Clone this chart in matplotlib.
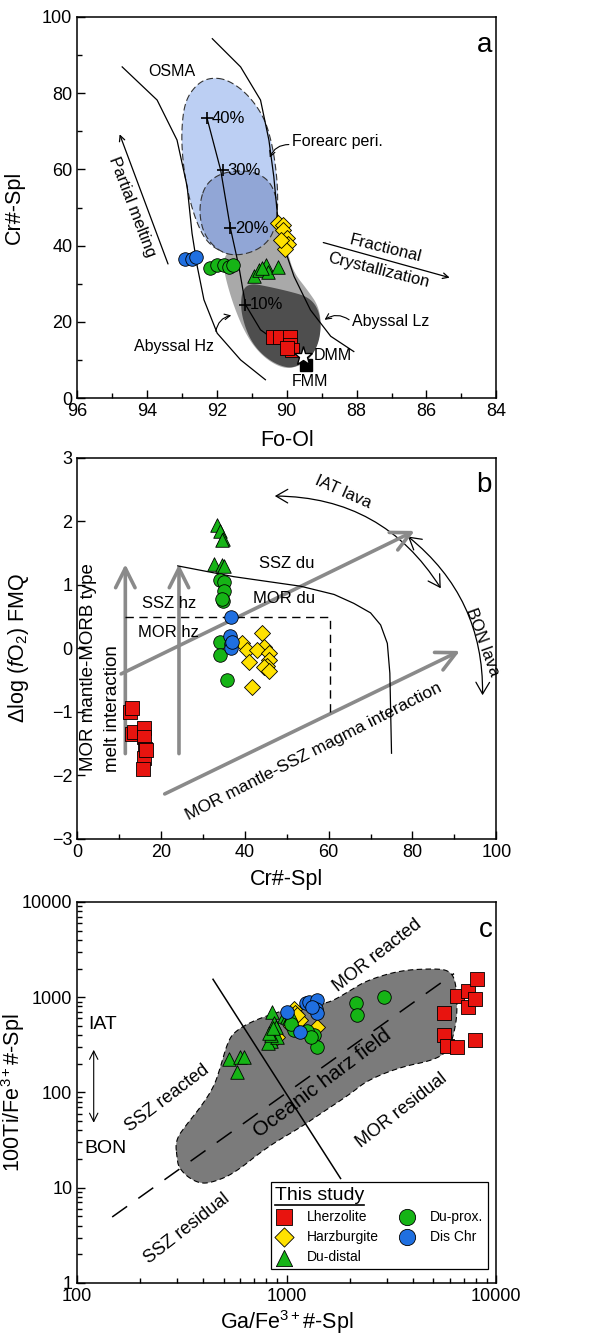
import numpy as np
import matplotlib.pyplot as plt
from matplotlib.patches import FancyArrowPatch, Polygon
from matplotlib.lines import Line2D
from matplotlib.ticker import MultipleLocator, FuncFormatter, LogLocator

plt.rcParams['font.family'] = ['Liberation Sans', 'DejaVu Sans']
plt.rcParams['mathtext.fontset'] = 'custom'
plt.rcParams['mathtext.rm'] = 'Liberation Sans'
plt.rcParams['mathtext.it'] = 'Liberation Sans:italic'
plt.rcParams['mathtext.bf'] = 'Liberation Sans:bold'

# colours of the sample groups
c_red = '#e8140f'
c_yel = '#ffe100'
c_grn = '#16b416'
c_blu = '#1f6fe0'

# ---------------- panel a : Fo-Ol vs Cr#-Spl ----------------
a_lhz_x = [90.4, 90.2, 89.9, 89.9, 89.85, 90.0]
a_lhz_y = [16, 16, 16, 14, 12.5, 13]
a_hzb_x = [90.25, 90.1, 90.1, 90.0, 89.95, 90.05, 90.15]
a_hzb_y = [46, 45.5, 44, 42, 40.5, 39, 41.5]
a_dud_x = [90.95, 90.8, 90.6, 90.55, 90.25, 90.7]
a_dud_y = [32, 33.5, 35, 33, 34.5, 34]
a_dup_x = [92.2, 92.0, 91.8, 91.65, 91.55]
a_dup_y = [34, 35, 35, 34.5, 35]
a_chr_x = [92.9, 92.7, 92.6]
a_chr_y = [36.5, 36.5, 37]

# field outlines
a_osma = [(92.18, 84.1), (91.70, 83.6), (91.13, 79.9), (90.65, 73.8), (90.42, 66.8),
          (90.29, 59.0), (90.25, 52.0), (90.29, 46.7), (90.56, 41.5), (91.13, 38.0),
          (91.70, 37.6), (92.28, 40.6), (92.61, 46.7), (92.85, 54.6), (92.99, 63.3),
          (93.01, 71.2), (92.90, 78.2), (92.56, 82.5)]
a_fore = [(92.47, 52.0), (92.32, 55.9), (91.99, 58.5), (91.51, 59.7), (90.94, 59.4),
          (90.51, 57.2), (90.29, 52.8), (90.27, 47.6), (90.42, 42.4), (90.75, 39.3),
          (91.23, 37.6), (91.70, 37.6), (92.09, 39.7), (92.37, 43.2), (92.49, 47.6)]
a_abyss = [(90.29, 48.5), (90.08, 43.2), (89.97, 38.0), (89.79, 32.8), (89.41, 28.4),
           (89.08, 24.0), (89.01, 18.8), (89.13, 13.5), (89.41, 9.6), (89.79, 7.9),
           (90.13, 7.9), (90.56, 10.0), (90.94, 13.5), (91.23, 17.9), (91.47, 23.1),
           (91.66, 28.4), (91.80, 33.6), (91.80, 37.1), (91.51, 39.7), (90.56, 43.2)]
a_lz = [(91.27, 28.4), (91.04, 30.1), (90.56, 29.3), (89.89, 27.9), (89.41, 26.6),
        (89.13, 24.0), (89.01, 19.7), (89.08, 14.4), (89.32, 10.5), (89.70, 8.3),
        (89.98, 7.9), (90.37, 9.2), (90.75, 11.8), (91.04, 15.3), (91.23, 19.7),
        (91.32, 24.0)]

# OSMA boundaries and melting trend
osma1_x = [94.71, 93.71, 93.14, 92.85, 92.71, 92.56, 92.37, 91.99, 91.32, 90.61]
osma1_y = [86.9, 78.2, 67.7, 55.5, 43.2, 34.5, 25.8, 17.0, 10.0, 4.8]
osma2_x = [92.13, 91.32, 90.75, 90.51, 90.37, 90.27, 90.08, 89.79, 89.32, 88.74, 88.08]
osma2_y = [94.3, 86.9, 78.2, 67.7, 58.1, 48.5, 39.7, 31.9, 23.1, 16.2, 12.2]
melt_x = [92.28, 91.89, 91.61, 91.37, 91.18, 90.75, 90.08, 89.56]
melt_y = [73.4, 59.8, 44.5, 34.5, 24.5, 17.9, 13.5, 10.9]
melt_pct = ['40%', '30%', '20%', '10%']
melt_px = [92.28, 91.83, 91.61, 91.18]
melt_py = [73.4, 59.8, 44.5, 24.5]

# ---------------- panel b : Cr#-Spl vs dlogfO2 ----------------
b_lhz_x = [12.7, 13.0, 13.0, 13.5, 15.9, 16.0, 16.3, 16.0, 15.8, 16.5]
b_lhz_y = [-1.0, -0.93, -1.35, -1.32, -1.25, -1.4, -1.58, -1.72, -1.9, -1.6]
b_hzb_x = [39.4, 40.6, 44.2, 44.6, 43.0, 45.7, 45.8, 41.0, 45.2, 44.6, 45.7, 41.8]
b_hzb_y = [0.08, -0.03, 0.25, 0.02, -0.02, -0.07, -0.18, -0.21, -0.28, -0.3, -0.36, -0.6]
b_dud_x = [33.4, 34.2, 34.8, 34.5, 32.6, 34.6, 35.0]
b_dud_y = [1.95, 1.85, 1.72, 1.7, 1.33, 1.32, 1.3]
b_dup_x = [34.2, 35.0, 35.0, 34.8, 34.5, 34.2, 34.2, 35.8]
b_dup_y = [1.08, 1.05, 0.9, 0.75, 0.78, 0.1, -0.1, -0.5]
b_chr_x = [36.6, 36.5, 36.8, 36.6, 37.0]
b_chr_y = [0.5, 0.2, 0.07, 0.0, 0.1]

b_du_x = [24, 37.4, 53.3, 61.3, 66.0, 70.0, 72.4, 74.0, 74.6, 75.0]
b_du_y = [1.3, 1.13, 0.98, 0.85, 0.71, 0.56, 0.37, 0.08, -0.39, -1.65]
b_hz_x = [11.5, 60.3, 60.3]
b_hz_y = [0.5, 0.5, -1.02]

# ---------------- panel c : Ga/Fe3+# vs 100Ti/Fe3+# ----------------
c_lhz_x = [5620, 5600, 5800, 6500, 6500, 7300, 7300, 7900, 8100, 7900]
c_lhz_y = [680, 400, 310, 300, 1020, 1150, 790, 960, 1570, 355]
c_hzb_x = [1080, 1100, 1040, 1160, 1400, 900, 1050, 1120]
c_hzb_y = [760, 680, 620, 570, 490, 380, 500, 650]
c_dud_x = [850, 870, 840, 810, 885, 900, 840, 970, 1000, 1030, 1050, 530, 600, 625, 580, 820, 860]
c_dud_y = [700, 530, 350, 330, 490, 380, 400, 640, 620, 600, 650, 225, 235, 235, 165, 420, 480]
c_dup_x = [2130, 2160, 2900, 1350, 1400, 1080, 1250, 1300, 1050]
c_dup_y = [870, 650, 1000, 400, 300, 450, 440, 380, 520]
c_chr_x = [1005, 1230, 1280, 1400, 1380, 1400, 1160, 1320]
c_chr_y = [700, 860, 880, 940, 760, 680, 430, 780]

c_field = [(300, 20.2), (294, 31.5), (335, 47), (388, 70), (449, 114), (483, 185),
           (520, 326), (560, 432), (697, 572), (969, 729), (1164, 822), (1503, 857),
           (1679, 929), (2018, 1183), (2422, 1506), (3491, 1918), (5035, 1995),
           (5940, 1918), (6393, 1506), (6516, 790), (6393, 487), (5940, 277),
           (5035, 218), (3491, 185), (2422, 134), (2018, 97), (1452, 60), (1164, 43),
           (807, 26.8), (560, 14.1), (449, 11.5), (388, 11.0), (335, 13.0), (305, 16.5)]
c_trend_x = [147, 6280]
c_trend_y = [4.93, 1770]
c_split_x = [445, 1807]
c_split_y = [1542, 12.5]


def smooth(pts, n=3):
    p = np.asarray(pts, float)
    for _ in range(n):
        q = 0.75 * p + 0.25 * np.roll(p, -1, axis=0)
        r = 0.25 * p + 0.75 * np.roll(p, -1, axis=0)
        p = np.empty((2 * len(q), 2))
        p[0::2] = q
        p[1::2] = r
    return p


def style_axes(ax):
    ax.tick_params(which='both', direction='in', top=False, right=False, labelsize=13)
    ax.tick_params(which='major', length=6, width=1)
    ax.tick_params(which='minor', length=3.5, width=1)
    for s in ax.spines.values():
        s.set_linewidth(1.1)


def groups(ax, lhz, hzb, dud, dup, chr_, s=95, label=False):
    kw = dict(edgecolors='black', linewidths=0.6, zorder=5)
    ax.scatter(*lhz, marker='s', s=s, c=c_red, label='Lherzolite' if label else None, **kw)
    ax.scatter(*hzb, marker='D', s=s * 0.7, c=c_yel, label='Harzburgite' if label else None, **kw)
    ax.scatter(*dud, marker='^', s=s, c=c_grn, label='Du-distal' if label else None, **kw)
    ax.scatter(*dup, marker='o', s=s, c=c_grn, label='Du-prox.' if label else None, **kw)
    ax.scatter(*chr_, marker='o', s=s, c=c_blu, label='Dis Chr' if label else None, **kw)


fig = plt.figure(figsize=(6.12, 13.37), dpi=100)
axa = fig.add_axes([0.126, 0.7023, 0.685, 0.285])
axb = fig.add_axes([0.126, 0.3725, 0.685, 0.285])
axc = fig.add_axes([0.126, 0.0404, 0.685, 0.285])

# ---------- a ----------
axa.add_patch(Polygon(smooth(a_abyss), closed=True, fc='#a9a9a9', ec='none', zorder=1))
axa.add_patch(Polygon(smooth(a_osma), closed=True, fc='#bccff3', ec='#333333', ls=(0, (6, 3)), lw=0.8, zorder=2))
axa.add_patch(Polygon(smooth(a_fore), closed=True, fc='#91a6d6', ec='#333333', ls=(0, (6, 3)), lw=0.8, zorder=2))
axa.add_patch(Polygon(smooth(a_lz), closed=True, fc='#4e4e4e', ec='none', zorder=2))
axa.plot(osma1_x, osma1_y, color='black', lw=0.9, zorder=3)
axa.plot(osma2_x, osma2_y, color='black', lw=0.9, zorder=3)
axa.plot(melt_x, melt_y, color='black', lw=0.9, zorder=3)
axa.plot(melt_px, melt_py, ls='none', marker='+', ms=9, mew=1.2, color='black', zorder=4)
for px, py, t in zip(melt_px, melt_py, melt_pct):
    axa.text(px - 0.12, py, t, fontsize=12, ha='left', va='center', zorder=4)
groups(axa, (a_lhz_x, a_lhz_y), (a_hzb_x, a_hzb_y), (a_dud_x, a_dud_y),
       (a_dup_x, a_dup_y), (a_chr_x, a_chr_y))
axa.plot([89.46], [8.7], marker='s', ms=9, color='black', zorder=6)
axa.plot([89.53], [10.9], marker='*', ms=14, mfc='white', mec='black', mew=1, zorder=7)

axa.text(93.28, 85.6, 'OSMA', fontsize=11.5, ha='center', va='center')
axa.text(89.84, 67.3, 'Forearc peri.', fontsize=11.5, ha='left', va='center')
axa.annotate('', xy=(90.51, 62.4), xytext=(89.86, 66.5),
             arrowprops=dict(arrowstyle='->', lw=0.8, connectionstyle='arc3,rad=0.4'))
axa.text(88.12, 20.1, 'Abyssal Lz', fontsize=11.5, ha='left', va='center')
axa.annotate('', xy=(88.98, 20.1), xytext=(88.15, 20.1),
             arrowprops=dict(arrowstyle='->', lw=0.8, connectionstyle='arc3,rad=0.4'))
axa.text(93.23, 13.5, 'Abyssal Hz', fontsize=11.5, ha='center', va='center')
axa.annotate('', xy=(91.51, 21.8), xytext=(92.04, 16.8),
             arrowprops=dict(arrowstyle='->', lw=0.8, connectionstyle='arc3,rad=-0.4'))
axa.text(89.22, 11.2, 'DMM', fontsize=11.5, ha='left', va='center', zorder=8)
axa.text(89.32, 4.4, 'FMM', fontsize=11.5, ha='center', va='center')
axa.text(94.42, 50.2, 'Partial melting', fontsize=12, rotation=-69, ha='center', va='center')
axa.annotate('', xy=(94.81, 69.9), xytext=(93.37, 34.5),
             arrowprops=dict(arrowstyle='->', lw=0.9))
axa.text(87.17, 39.3, 'Fractional', fontsize=12, rotation=-14, ha='center', va='center')
axa.text(87.36, 33.6, 'Crystallization', fontsize=12, rotation=-14, ha='center', va='center')
axa.annotate('', xy=(85.26, 31.4), xytext=(89.03, 41.0),
             arrowprops=dict(arrowstyle='->', lw=0.9))
axa.text(84.35, 92.6, 'a', fontsize=20, ha='center', va='center')

axa.set_xlim(96, 84)
axa.set_ylim(0, 100)
axa.xaxis.set_major_locator(MultipleLocator(2))
axa.xaxis.set_minor_locator(MultipleLocator(1))
axa.yaxis.set_major_locator(MultipleLocator(20))
axa.yaxis.set_minor_locator(MultipleLocator(10))
axa.set_xlabel('Fo-Ol', fontsize=15.5, labelpad=7)
axa.set_ylabel('Cr#-Spl', fontsize=15.5)
axa.yaxis.set_label_coords(-0.124, 0.5)
style_axes(axa)

# ---------- b ----------
gray_arrow = dict(arrowstyle='->,head_length=0.7,head_width=0.35', mutation_scale=20,
                  lw=2.6, color='#8a8a8a', zorder=2)
axb.add_patch(FancyArrowPatch((11.5, -1.7), (11.5, 1.37), **gray_arrow))
axb.add_patch(FancyArrowPatch((24.3, -1.7), (24.3, 1.37), **gray_arrow))
axb.add_patch(FancyArrowPatch((9.9, -0.42), (81.1, 1.87), **gray_arrow))
axb.add_patch(FancyArrowPatch((20.3, -2.31), (91.9, -0.02), **gray_arrow))
axb.plot(b_du_x, b_du_y, color='black', lw=0.9, zorder=3)
axb.plot(b_hz_x, b_hz_y, color='black', lw=1.0, ls=(0, (6, 4)), zorder=3)
axb.add_patch(FancyArrowPatch((46.5, 2.4), (87.1, 0.91), connectionstyle='arc3,rad=-0.28',
                              arrowstyle='<->,head_length=0.6,head_width=0.35',
                              mutation_scale=14, lw=0.9, color='black'))
axb.add_patch(FancyArrowPatch((78.4, 1.79), (96.7, -0.78), connectionstyle='arc3,rad=-0.25',
                              arrowstyle='<->,head_length=0.6,head_width=0.35',
                              mutation_scale=14, lw=0.9, color='black'))
groups(axb, (b_lhz_x, b_lhz_y), (b_hzb_x, b_hzb_y), (b_dud_x, b_dud_y),
       (b_dup_x, b_dup_y), (b_chr_x, b_chr_y))
axb.text(63.5, 2.47, 'IAT lava', fontsize=12, rotation=-24, ha='center', va='center')
axb.text(96.6, 0.1, 'BON lava', fontsize=12, rotation=-70, ha='center', va='center')
axb.text(50.1, 1.34, 'SSZ du', fontsize=12, ha='center', va='center')
axb.text(49.3, 0.79, 'MOR du', fontsize=12, ha='center', va='center')
axb.text(21.9, 0.71, 'SSZ hz', fontsize=12, ha='center', va='center')
axb.text(21.9, 0.25, 'MOR hz', fontsize=12, ha='center', va='center')
axb.text(2.8, -1.93, 'MOR mantle-MORB type', fontsize=13.5, rotation=90,
         rotation_mode='anchor', ha='left', va='center')
axb.text(8.4, -1.95, 'melt interaction', fontsize=13.5, rotation=90,
         rotation_mode='anchor', ha='left', va='center')
axb.text(56.5, -1.62, 'MOR mantle-SSZ magma interaction', fontsize=12.5, rotation=27,
         ha='center', va='center')
axb.text(97, 2.58, 'b', fontsize=20, ha='center', va='center')

axb.set_xlim(0, 100)
axb.set_ylim(-3, 3)
axb.xaxis.set_major_locator(MultipleLocator(20))
axb.xaxis.set_minor_locator(MultipleLocator(10))
axb.yaxis.set_major_locator(MultipleLocator(1))
axb.set_xlabel('Cr#-Spl', fontsize=15.5, labelpad=6)
axb.set_ylabel(r'$\Delta$log ($f$O$_2$) FMQ', fontsize=15.5)
axb.yaxis.set_label_coords(-0.11, 0.5)
style_axes(axb)

# ---------- c ----------
axc.set_xscale('log')
axc.set_yscale('log')
fld = 10 ** smooth(np.log10(np.array(c_field)))
axc.add_patch(Polygon(fld, closed=True, fc='#7b7b7b', ec='black', ls=(0, (5, 3)), lw=0.8, zorder=1))
axc.plot(c_trend_x, c_trend_y, color='black', lw=1.1, ls=(0, (12, 9)), zorder=2)
axc.plot(c_split_x, c_split_y, color='black', lw=1.1, zorder=2)
axc.annotate('', xy=(120, 300), xytext=(120, 45),
             arrowprops=dict(arrowstyle='<->,head_length=0.6,head_width=0.3', lw=0.8))
groups(axc, (c_lhz_x, c_lhz_y), (c_hzb_x, c_hzb_y), (c_dud_x, c_dud_y),
       (c_dup_x, c_dup_y), (c_chr_x, c_chr_y), label=True)
axc.text(132, 520, 'IAT', fontsize=14, ha='center', va='center')
axc.text(136, 25.7, 'BON', fontsize=14, ha='center', va='center')
axc.text(2704, 2754, 'MOR reacted', fontsize=13, rotation=38, ha='center', va='center')
axc.text(1476, 124, 'Oceanic harz field', fontsize=15, rotation=37, ha='center', va='center', zorder=3)
axc.text(269, 86, 'SSZ reacted', fontsize=13, rotation=37, ha='center', va='center')
axc.text(3556, 65, 'MOR residual', fontsize=13, rotation=38, ha='center', va='center')
axc.text(335, 3.72, 'SSZ residual', fontsize=13, rotation=38, ha='center', va='center')
axc.text(8890, 5040, 'c', fontsize=20, ha='center', va='center')

leg = axc.legend(ncol=2, loc='lower right', bbox_to_anchor=(0.979, 0.038),
                 borderaxespad=0, title='This study', title_fontsize=14,
                 fontsize=10, frameon=True, fancybox=False, edgecolor='black',
                 framealpha=1, borderpad=0.3, handlelength=1.3, handletextpad=1.0,
                 columnspacing=1.4, labelspacing=0.45, markerscale=1.2, alignment='left')
leg.get_frame().set_linewidth(0.9)
leg.set_zorder(10)

axc.set_xlim(100, 10000)
axc.set_ylim(1, 10000)
axc.xaxis.set_major_formatter(FuncFormatter(lambda v, p: f'{v:g}'))
axc.yaxis.set_major_formatter(FuncFormatter(lambda v, p: f'{v:g}'))
axc.yaxis.set_major_locator(LogLocator(base=10, numticks=10))
axc.set_xlabel(r'Ga/Fe$^{3+}$#-Spl', fontsize=15.5, labelpad=2)
axc.set_ylabel(r'100Ti/Fe$^{3+}$#-Spl', fontsize=15.5)
axc.yaxis.set_label_coords(-0.12, 0.5)
style_axes(axc)

# underline the legend title
fig.canvas.draw()
bb = leg.get_title().get_window_extent().transformed(fig.transFigure.inverted())
fig.add_artist(Line2D([bb.x0, bb.x1], [bb.y0 - 0.001, bb.y0 - 0.001],
                      transform=fig.transFigure, color='black', lw=1.2, zorder=11))

plt.savefig('out.png', dpi=100)
